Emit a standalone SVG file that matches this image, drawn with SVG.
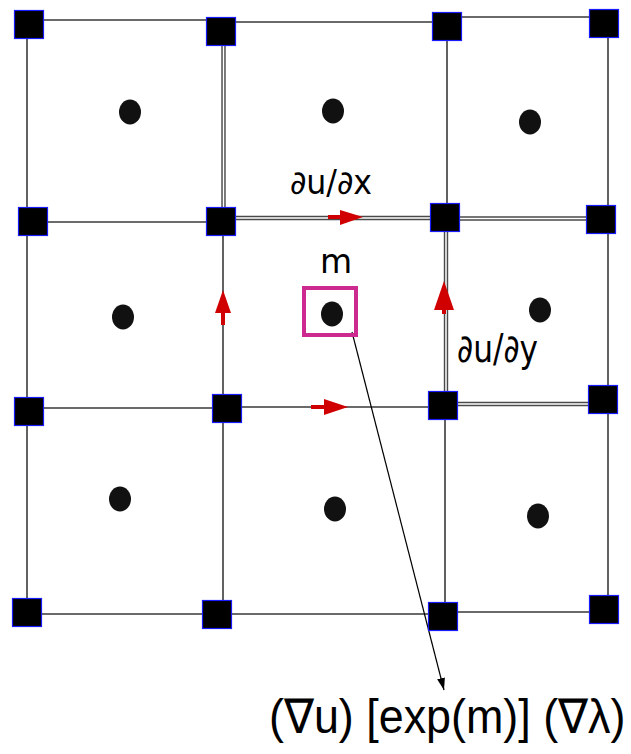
<svg xmlns="http://www.w3.org/2000/svg" width="631" height="754" viewBox="0 0 631 754">
  <style>
    .ln { stroke: #3a3a3a; stroke-width: 1.6; fill: none; }
    .dbo { stroke: #4a4a4a; stroke-width: 4.4; fill: none; }
    .dbi { stroke: #ffffff; stroke-width: 1.5; fill: none; }
    .node { fill: #000000; stroke: #1a1aff; stroke-width: 1.2; }
    .dot { fill: #111111; }
    .flux { fill: #d00000; }
    .lbl { font-family: "DejaVu Sans", sans-serif; fill: #000000; }
    .eq { font-family: "Liberation Sans", Arial, sans-serif; fill: #000000; }
  </style>
  <defs>
    <marker id="tip" markerWidth="12" markerHeight="10" viewBox="0 0 12 10" refX="12" refY="5" orient="auto" markerUnits="userSpaceOnUse">
      <path d="M0,1 L12,5 L0,9 Z" fill="#000000"/>
    </marker>
  </defs>

  <!-- grid edges -->
  <g id="connectors">
    <!-- single edges -->
    <path class="ln" d="M29,20 H221 M221,22 H447 M447,17 H604"/>
    <path class="ln" d="M33,222 H221"/>
    <path class="ln" d="M29,408 H227 M227,407 H443"/>
    <path class="ln" d="M27,614 H443 M443,612 H604"/>
    <path class="ln" d="M27,25 V612"/>
    <path class="ln" d="M223,221 V614"/>
    <path class="ln" d="M447,26 V217 M445,405 V616"/>
    <path class="ln" d="M608,24 V609"/>
    <!-- double edges -->
    <path class="dbo" d="M223.5,31 V221 M221,218 H445 M445,218.5 H601 M446,217 V405 M443,404 H603"/>
    <path class="dbi" d="M223.5,31 V221 M221,218 H445 M445,218.5 H601 M446,217 V405 M443,404 H603"/>
    <!-- pointer from the marked cell to the expression -->
    <line x1="352" y1="332" x2="444" y2="690" stroke="#000000" stroke-width="1.2" marker-end="url(#tip)"/>
  </g>

  <!-- flux arrows on edges -->
  <g id="flux-arrows">
    <rect class="flux" x="328" y="215" width="13" height="4"/>
    <polygon class="flux" points="340,210 363,217 340,225"/>
    <rect class="flux" x="311" y="405" width="14" height="4"/>
    <polygon class="flux" points="324,399 348,407 324,415"/>
    <polygon class="flux" points="215,313 223,290 231,313"/>
    <rect class="flux" x="221" y="312" width="4" height="13"/>
    <polygon class="flux" points="434,310 444,281 454,310"/>
    <rect class="flux" x="442" y="309" width="4" height="5"/>
  </g>

  <!-- cell centres -->
  <g id="cells">
    <ellipse class="dot" cx="130" cy="112" rx="11" ry="12.5"/>
    <ellipse class="dot" cx="333" cy="111" rx="11" ry="12.5"/>
    <ellipse class="dot" cx="530" cy="122" rx="11" ry="12.5"/>
    <ellipse class="dot" cx="123" cy="317" rx="11" ry="12.5"/>
    <ellipse class="dot" cx="540" cy="310" rx="11" ry="12.5"/>
    <ellipse class="dot" cx="120" cy="499" rx="11" ry="12.5"/>
    <ellipse class="dot" cx="335" cy="509" rx="11" ry="12.5"/>
    <ellipse class="dot" cx="538" cy="516" rx="11" ry="12.5"/>
  </g>

  <g id="cell-m">
    <rect x="304" y="288" width="52" height="47" fill="none" stroke="#cc2a8e" stroke-width="4"/>
    <ellipse class="dot" cx="332" cy="314" rx="11" ry="12.5"/>
    <text class="lbl" x="336" y="273" font-size="33" text-anchor="middle">m</text>
  </g>

  <!-- vertices -->
  <g id="n00"><rect class="node" x="14.5" y="10.5" width="29" height="28"/></g>
  <g id="n01"><rect class="node" x="206.5" y="17.5" width="29" height="28"/></g>
  <g id="n02"><rect class="node" x="432.5" y="12.5" width="29" height="28"/></g>
  <g id="n03"><rect class="node" x="589.5" y="9.5" width="29" height="28"/></g>
  <g id="n10"><rect class="node" x="18.5" y="207.5" width="29" height="28"/></g>
  <g id="n11"><rect class="node" x="206.5" y="207.5" width="29" height="28"/></g>
  <g id="n12"><rect class="node" x="430.5" y="203.5" width="29" height="28"/></g>
  <g id="n13"><rect class="node" x="586.5" y="205.5" width="29" height="28"/></g>
  <g id="n20"><rect class="node" x="14.5" y="397.5" width="29" height="28"/></g>
  <g id="n21"><rect class="node" x="212.5" y="394.5" width="29" height="28"/></g>
  <g id="n22"><rect class="node" x="428.5" y="391.5" width="29" height="28"/></g>
  <g id="n23"><rect class="node" x="588.5" y="385.5" width="29" height="28"/></g>
  <g id="n30"><rect class="node" x="12.5" y="598.5" width="29" height="28"/></g>
  <g id="n31"><rect class="node" x="202.5" y="600.5" width="29" height="28"/></g>
  <g id="n32"><rect class="node" x="428.5" y="602.5" width="29" height="28"/></g>
  <g id="n33"><rect class="node" x="589.5" y="595.5" width="29" height="28"/></g>

  <!-- labels -->
  <g id="labels">
    <text class="lbl" x="290" y="194" font-size="33" textLength="82" lengthAdjust="spacingAndGlyphs">∂u/∂x</text>
    <text class="lbl" x="457" y="362" font-size="39" textLength="81" lengthAdjust="spacingAndGlyphs">∂u/∂y</text>
    <text class="eq" transform="translate(269,733) scale(0.935,1)" x="0" y="0" font-size="48">(∇u) [exp(m)] (∇λ)</text>
  </g>
</svg>
